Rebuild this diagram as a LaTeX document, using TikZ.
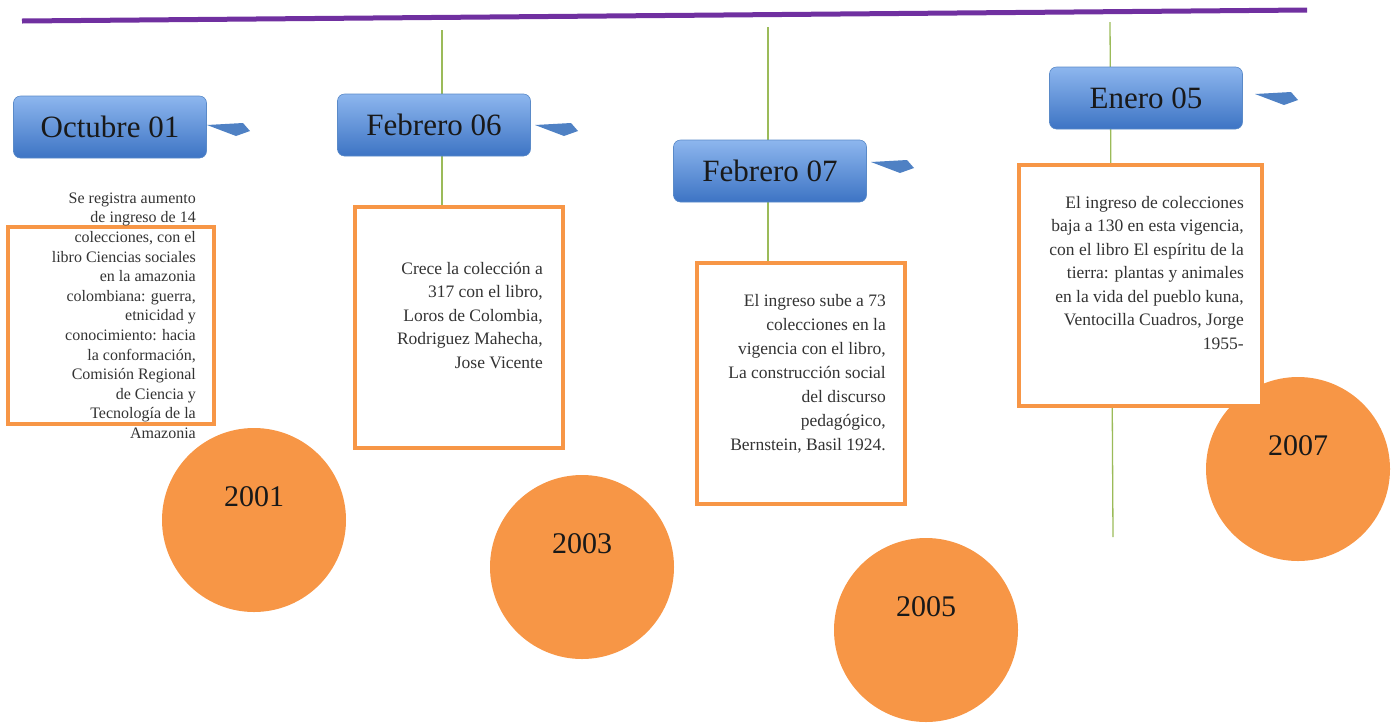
\documentclass[tikz,border=0pt]{standalone}
\usepackage{fontspec}
\setmainfont{Liberation Serif}
\usepackage{tikz}
\usetikzlibrary{calc,positioning,shapes}
\definecolor{timeline}{HTML}{7030A0}
\definecolor{stem}{HTML}{9BBB59}
\definecolor{naranja}{HTML}{F79646}
\definecolor{azulclaro}{HTML}{8DB6EE}
\definecolor{azuloscuro}{HTML}{3D74C4}
\definecolor{azulborde}{HTML}{5A8AC8}
\definecolor{flecha}{HTML}{4F81C4}
\tikzstyle{datebox}   = [rectangle, rounded corners=7pt, minimum width=193pt, minimum height=62pt, top color=azulclaro, bottom color=azuloscuro, draw=azulborde, line width=0.6pt, font=\fontsize{31}{35}\selectfont, text=black!90]
\tikzstyle{infobox}   = [rectangle, draw=naranja, line width=4pt, fill=white, inner sep=0pt]
\tikzstyle{note}      = [align=right, inner sep=0pt, text=black!80]
\tikzstyle{yearcircle}= [circle, fill=naranja, minimum size=184pt, inner sep=0pt]
\tikzstyle{year}      = [font=\fontsize{30}{34}\selectfont, text=black!90]
\tikzstyle{tick}      = [stem, line width=1.3pt]
\tikzstyle{pointer}   = [fill=flecha]
\newcommand{\datearrow}[2]{\fill[pointer] (#1,#2) -- ++(36,-2) -- ++(7,8) -- ++(-14,5) -- cycle;}

\begin{document}
\begin{tikzpicture}[x=1pt,y=-1pt]
        \useasboundingbox (0,0) rectangle (1391,724);

        % linea del tiempo
        \coordinate (inicio) at (22,21);
        \coordinate (fin) at (1307,10);
        \draw[timeline, line width=5pt] (inicio) -- (fin);

        \coordinate (t2) at (442,30);
        \coordinate (t3) at (768,27);
        \coordinate (t4) at (1110,22);
        \coordinate (t4b) at (1113,537);
        \draw[tick] (t4) -- (t4b);

        % circulos de los anios
        \node[yearcircle] (c1) at (254,520) {};
        \node[yearcircle] (c2) at (582,567) {};
        \node[yearcircle] (c3) at (926,630) {};
        \node[yearcircle] (c4) at (1298,469) {};
        \node[year] (y1) at ([yshift=23pt]c1.center) {2001};
        \node[year] (y2) at ([yshift=23pt]c2.center) {2003};
        \node[year] (y3) at ([yshift=23pt]c3.center) {2005};
        \node[year] (y4) at ([yshift=23pt]c4.center) {2007};

        % cajas de texto
        \node[infobox, minimum width=206pt, minimum height=197pt] (b1) at (111,325.5) {};
        \node[infobox, minimum width=208pt, minimum height=241pt] (b2) at (459,327.5) {};
        \node[infobox, minimum width=208pt, minimum height=241pt] (b3) at (801,383.5) {};
        \node[infobox, minimum width=243pt, minimum height=241pt] (b4) at (1140.5,285.5) {};
        \draw[tick] (t2) -- (t2 |- b2.north);
        \draw[tick] (t3) -- (t3 |- b3.north);

        \node[note, anchor=north east, font=\fontsize{16}{19.6}\selectfont] (n1) at (196,192.5)
            {Se registra aumento\\de ingreso de 14\\colecciones, con el\\libro Ciencias sociales\\en la amazonia\\colombiana: guerra,\\etnicidad y\\conocimiento: hacia\\la conformación,\\Comisión Regional\\de Ciencia y\\Tecnología de la\\Amazonia};
        \node[note, anchor=north east, font=\fontsize{17.5}{23.5}\selectfont] (n2) at (543,262)
            {Crece la colección a\\317 con el libro,\\Loros de Colombia,\\Rodriguez Mahecha,\\Jose Vicente};
        \node[note, anchor=north east, font=\fontsize{17.5}{24}\selectfont] (n3) at (886,294)
            {El ingreso sube a 73\\colecciones en la\\vigencia con el libro,\\La construcción social\\del discurso\\pedagógico,\\Bernstein, Basil 1924.};
        \node[note, anchor=north east, font=\fontsize{17.5}{23.5}\selectfont] (n4) at (1244,196)
            {El ingreso de colecciones\\baja a 130 en esta vigencia,\\con el libro El espíritu de la\\tierra: plantas y animales\\en la vida del pueblo kuna,\\Ventocilla Cuadros, Jorge\\1955-};

        % fechas
        \node[datebox] (oct) at (110,127) {Octubre 01};
        \node[datebox] (feb6) at (434,125) {Febrero 06};
        \node[datebox] (feb7) at (770,171) {Febrero 07};
        \node[datebox] (ene) at (1146,98) {Enero 05};

        \datearrow{207}{125}
        \datearrow{535}{125}
        \datearrow{871}{162}
        \datearrow{1255}{94}
    \end{tikzpicture}
\end{document}
